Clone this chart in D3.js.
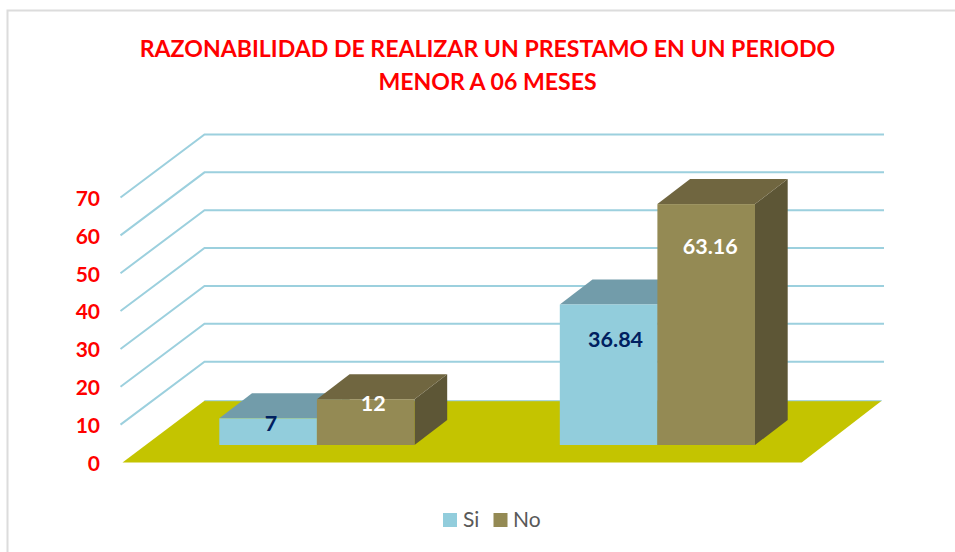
<!DOCTYPE html>
<html><head><meta charset="utf-8">
<script src="https://cdnjs.cloudflare.com/ajax/libs/d3/7.8.5/d3.min.js"></script>
<style>html,body{margin:0;padding:0;background:#fff}svg{display:block}text{font-family:Lato,"Open Sans",sans-serif}</style>
</head><body><svg id="c" width="955" height="552"></svg>
<script>
const titleLines = ["RAZONABILIDAD DE REALIZAR UN PRESTAMO EN UN PERIODO","MENOR A 06 MESES"];
const categories = ["A","B"];
const seriesNames = ["Si","No"];
const siValues = [7,36.84];
const noValues = [12,63.16];
const siLabels = ["7","36.84"];
const noLabels = ["12","63.16"];
const yTicks = [0,10,20,30,40,50,60,70];

const svg = d3.select("#c");
const front = d3.scaleLinear().domain([0,70]).range([462.5,197.5]);
const barY = d3.scaleLinear().domain([0,70]).range([445,445-267]);
const x0 = d3.scaleBand().domain(categories).range([219.3,755]).paddingInner(0.4267).paddingOuter(0);
const xs = d3.scaleBand().domain(seriesNames).range([0,x0.bandwidth()]);
const wallDx=84, wallDy=-63, wallX=120.5, gridRight=884;
const barDx=32.7, barDy=-25;
const colors={Si:{f:"#92CDDC",t:"#729CAA",s:"#5f8794"},No:{f:"#948A54",t:"#706640",s:"#5D5636"}};

// frame
svg.append("path").attr("d","M7.5,552V10.5H955").attr("fill","none").attr("stroke","#dcdcdc").attr("stroke-width",2);

// title
svg.append("g").selectAll("text").data(titleLines).join("text")
 .attr("x",487.5).attr("y",(d,i)=>[56.5,90][i]).attr("text-anchor","middle")
 .attr("fill","#FF0000").attr("font-weight",700).attr("font-size",23.1).text(d=>d);

// grid
const line=d3.line();
svg.append("g").selectAll("path").data(yTicks.slice(1)).join("path")
 .attr("d",d=>line([[wallX,front(d)],[wallX+wallDx,front(d)+wallDy],[gridRight,front(d)+wallDy]]))
 .attr("fill","none").attr("stroke","#9CD0DE").attr("stroke-width",2);

// floor
const fy=front(0), by=400.7;
svg.append("path").attr("d",line([[122.5,fy],[204.5,by],[881.7,by],[801.7,fy]])+"Z").attr("fill","#C4C400");
svg.append("path").attr("d",line([[204.5,by],[881.7,by]])).attr("stroke","#9CD0DE").attr("stroke-width",1).attr("fill","none");

// y tick labels
svg.append("g").selectAll("text").data(yTicks).join("text")
 .attr("x",100).attr("y",d=>front(d)+8.3).attr("text-anchor","end")
 .attr("fill","#FF0000").attr("font-weight",700).attr("font-size",21).text(d=>d);

// bars
function bar(g,cat,name,val){
  const x=x0(cat)+xs(name), w=xs.bandwidth(), top=barY(val), base=barY(0), c=colors[name];
  g.append("path").attr("d",line([[x+w,top],[x+w+barDx,top+barDy],[x+w+barDx,base+barDy],[x+w,base]])+"Z").attr("fill",c.s);
  g.append("path").attr("d",line([[x,top],[x+barDx,top+barDy],[x+w+barDx,top+barDy],[x+w,top]])+"Z").attr("fill",c.t);
  g.append("rect").attr("x",x).attr("y",top).attr("width",w).attr("height",base-top).attr("fill",c.f);
}
const bars=svg.append("g");
categories.forEach((cat,i)=>{bar(bars,cat,"Si",siValues[i]);bar(bars,cat,"No",noValues[i]);});

// data labels
const labelShift=[[3,7.5],[7,4]];
const labelY=[[430.5,411],[347,254]];
const labels=svg.append("g");
categories.forEach((cat,i)=>{
  [["Si",siLabels[i],"#002060"],["No",noLabels[i],"#fff"]].forEach(([n,t,col],j)=>{
    labels.append("text").attr("x",x0(cat)+xs(n)+xs.bandwidth()/2+labelShift[i][j])
     .attr("y",labelY[i][j]).attr("text-anchor","middle").attr("fill",col)
     .attr("font-weight",700).attr("font-size",21.5).text(t);
  });
});

// legend
const leg=svg.append("g");
seriesNames.forEach((n,i)=>{
  leg.append("rect").attr("x",[443,493.5][i]).attr("y",513).attr("width",14).attr("height",14).attr("fill",colors[n].f);
  leg.append("text").attr("x",[463,513][i]).attr("y",527).attr("fill","#595959").attr("font-size",21).text(n);
});
</script></body></html>
